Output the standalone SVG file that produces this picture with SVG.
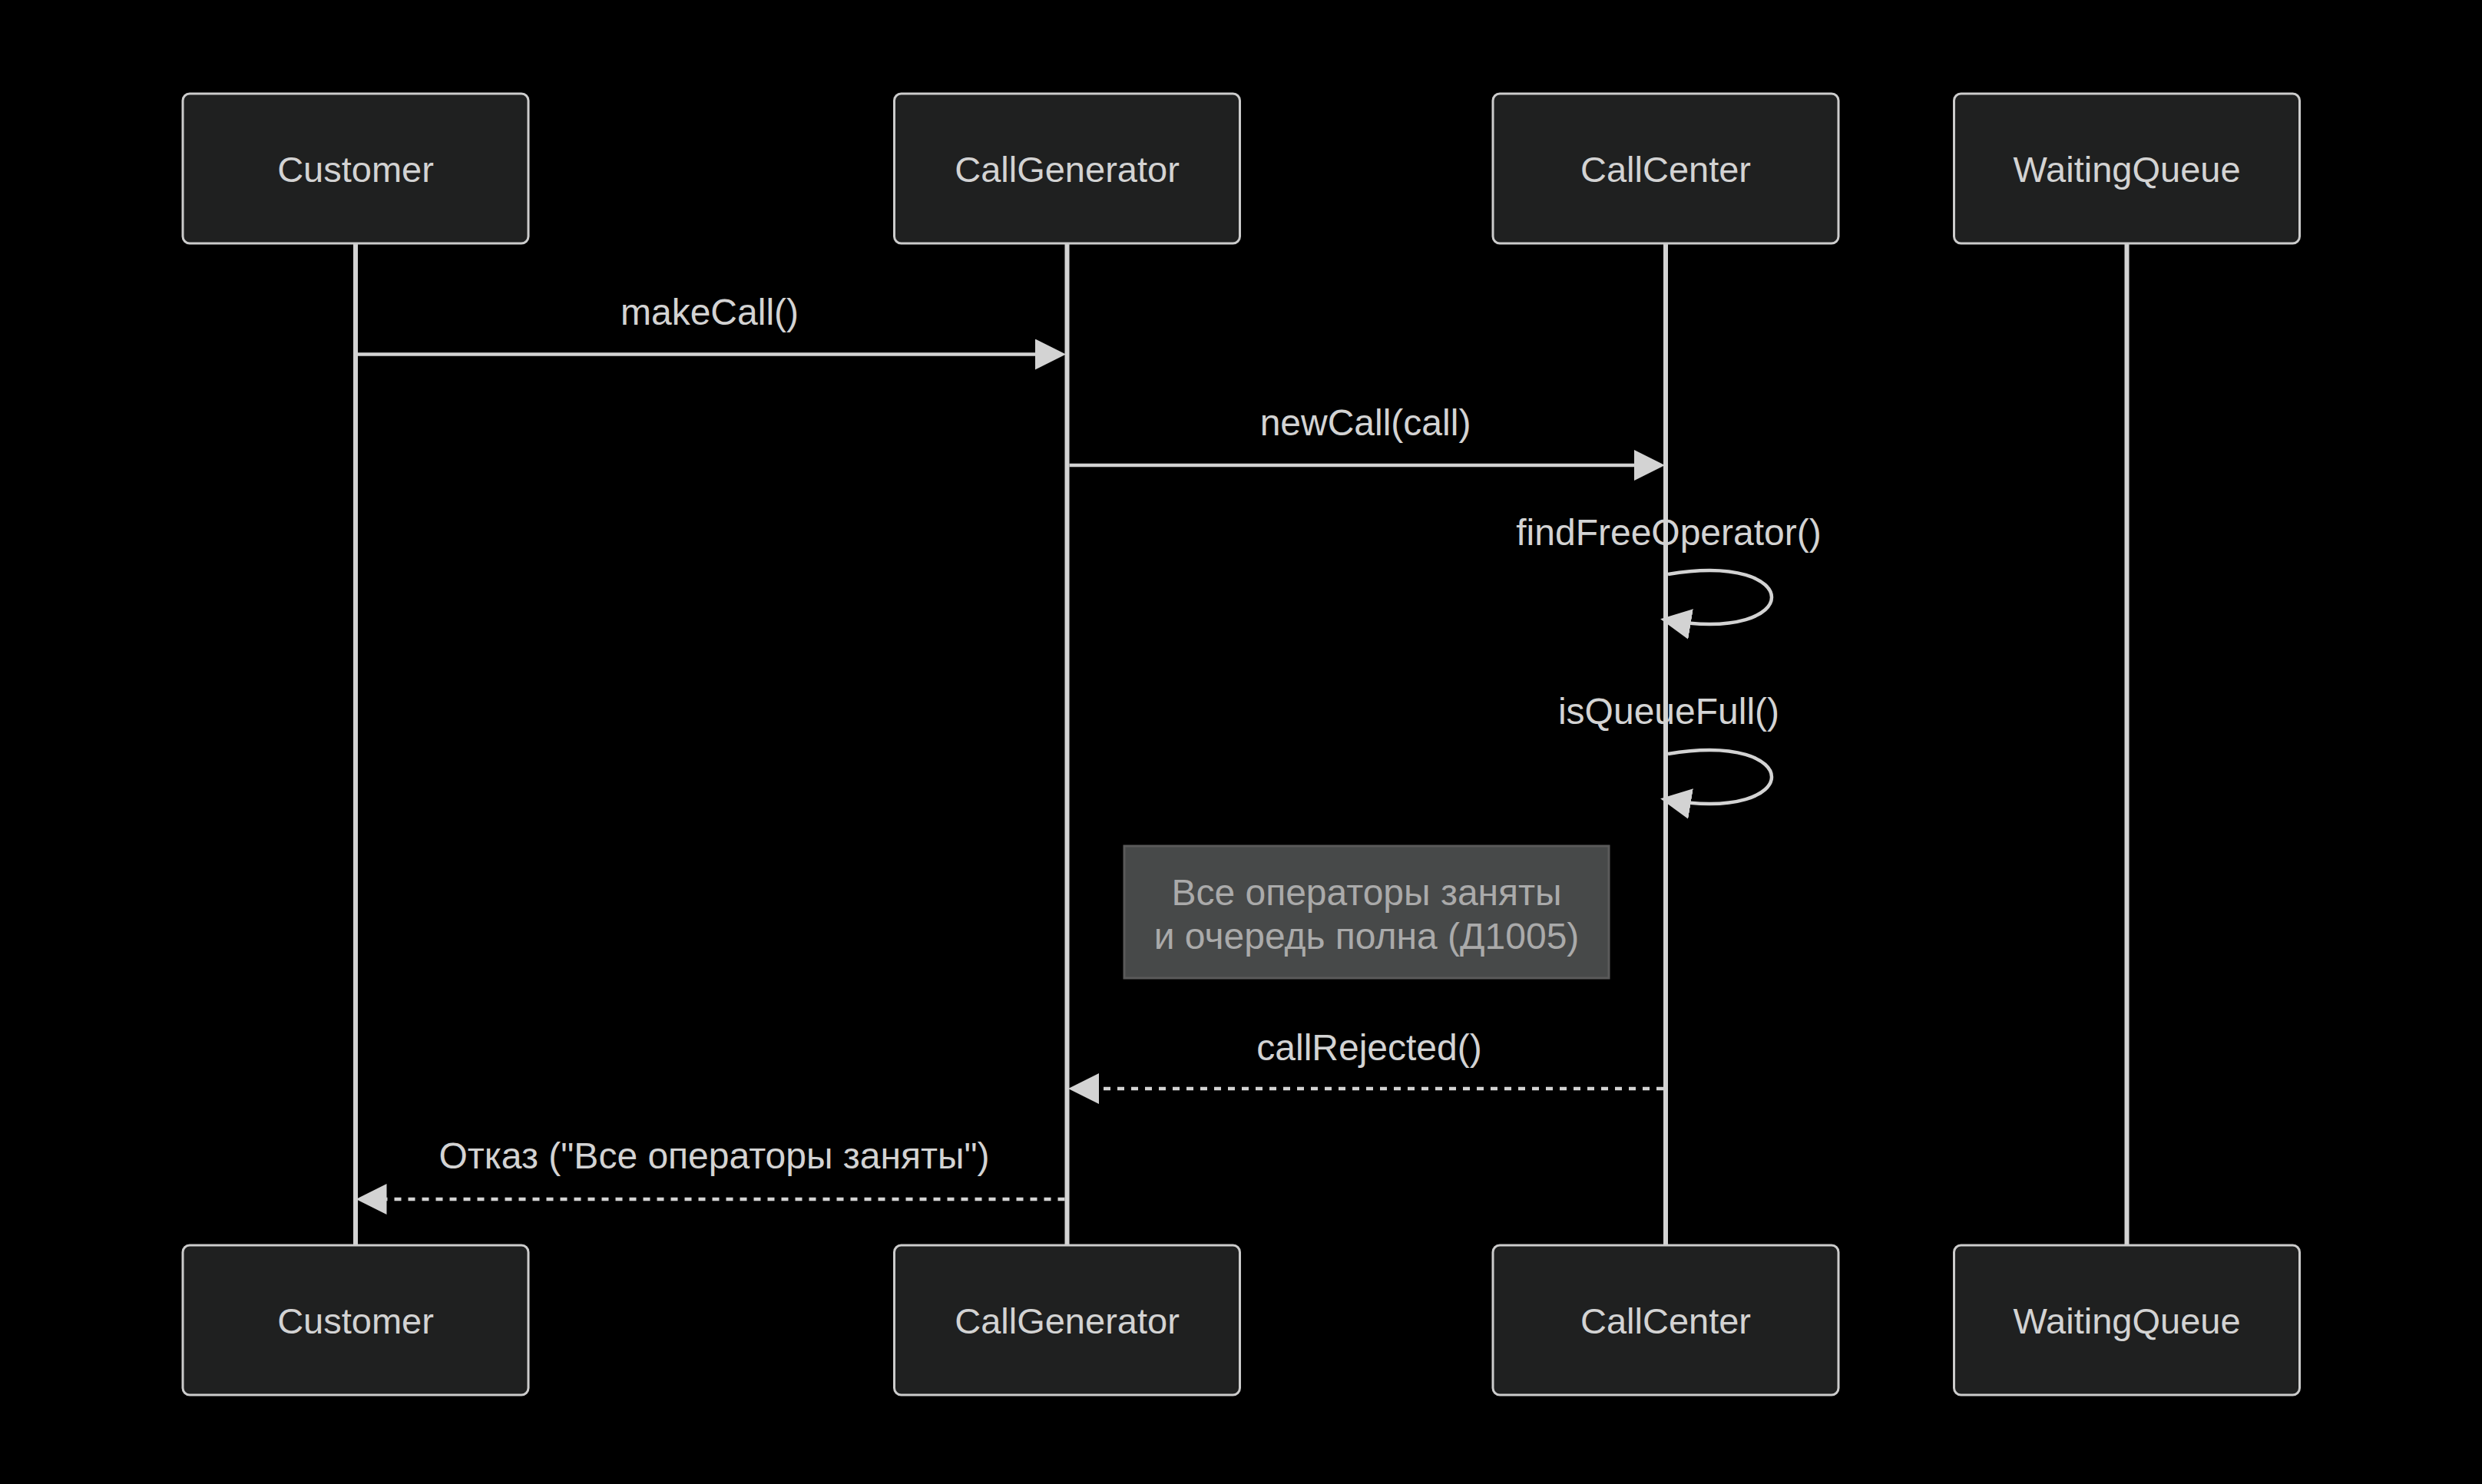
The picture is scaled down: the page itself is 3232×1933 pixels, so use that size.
<svg xmlns="http://www.w3.org/2000/svg" width="3232" height="1933" viewBox="0 0 3232 1933">
<style>
.actor{fill:#1f2020;stroke:#cccccc;stroke-width:3}
.atext{font-family:"Liberation Sans",Arial,sans-serif;font-size:47px;fill:#d3d3d3;text-anchor:middle}
.life{stroke:#d3d3d3;stroke-width:6}
.msg{stroke:#d3d3d3;stroke-width:4.5;fill:none}
.dash{stroke-dasharray:9 9}
.mtext{font-family:"Liberation Sans",Arial,sans-serif;font-size:48px;fill:#d3d3d3;text-anchor:middle}
.note{fill:#474949;stroke:#5a5a5a;stroke-width:3}
.ntext{font-family:"Liberation Sans",Arial,sans-serif;font-size:48px;fill:#aaaaaa;text-anchor:middle}
</style>
<defs>
<marker id="arrow" markerUnits="userSpaceOnUse" markerWidth="40" markerHeight="40" viewBox="0 0 32 32" refX="24" refY="16" orient="auto">
<path d="M0,0 L32,16 L0,32 z" fill="#d3d3d3"/>
</marker>
</defs>
<rect x="0" y="0" width="3232" height="1933" fill="#000000"/>
<g id="lifelines">
<line class="life" x1="463" y1="317" x2="463" y2="1622"/>
<line class="life" x1="1389.5" y1="317" x2="1389.5" y2="1622"/>
<line class="life" x1="2169" y1="317" x2="2169" y2="1622"/>
<line class="life" x1="2769.5" y1="317" x2="2769.5" y2="1622"/>
</g>
<g id="Customer">
<rect class="actor" x="238" y="122" width="450" height="195" rx="9"/>
<text class="atext" x="463" y="237">Customer</text>
</g>
<g id="CallGenerator">
<rect class="actor" x="1164.5" y="122" width="450" height="195" rx="9"/>
<text class="atext" x="1389.5" y="237">CallGenerator</text>
</g>
<g id="CallCenter">
<rect class="actor" x="1944" y="122" width="450" height="195" rx="9"/>
<text class="atext" x="2169" y="237">CallCenter</text>
</g>
<g id="WaitingQueue">
<rect class="actor" x="2544.5" y="122" width="450" height="195" rx="9"/>
<text class="atext" x="2769.5" y="237">WaitingQueue</text>
</g>
<g id="Customer_bottom">
<rect class="actor" x="238" y="1622" width="450" height="195" rx="9"/>
<text class="atext" x="463" y="1737">Customer</text>
</g>
<g id="CallGenerator_bottom">
<rect class="actor" x="1164.5" y="1622" width="450" height="195" rx="9"/>
<text class="atext" x="1389.5" y="1737">CallGenerator</text>
</g>
<g id="CallCenter_bottom">
<rect class="actor" x="1944" y="1622" width="450" height="195" rx="9"/>
<text class="atext" x="2169" y="1737">CallCenter</text>
</g>
<g id="WaitingQueue_bottom">
<rect class="actor" x="2544.5" y="1622" width="450" height="195" rx="9"/>
<text class="atext" x="2769.5" y="1737">WaitingQueue</text>
</g>
<g id="note">
<rect class="note" x="1464" y="1102" width="631" height="172"/>
<text class="ntext" x="1779.5" y="1179">Все операторы заняты</text>
<text class="ntext" x="1779.5" y="1236">и очередь полна (Д1005)</text>
</g>
<g id="connectors">
<line class="msg" x1="466" y1="461.5" x2="1378" y2="461.5" marker-end="url(#arrow)"/>
<text class="mtext" x="924" y="423">makeCall()</text>
<line class="msg" x1="1392.5" y1="606" x2="2158" y2="606" marker-end="url(#arrow)"/>
<text class="mtext" x="1778" y="567">newCall(call)</text>
<path class="msg" d="M2172,748 C2352,718 2352,838 2172,808" marker-end="url(#arrow)"/>
<text class="mtext" x="2173" y="710">findFreeOperator()</text>
<path class="msg" d="M2172,982 C2352,952 2352,1072 2172,1042" marker-end="url(#arrow)"/>
<text class="mtext" x="2173" y="943">isQueueFull()</text>
<line class="msg dash" x1="2166" y1="1418" x2="1401" y2="1418" marker-end="url(#arrow)"/>
<text class="mtext" x="1783" y="1381">callRejected()</text>
<line class="msg dash" x1="1386.5" y1="1562" x2="473.5" y2="1562" marker-end="url(#arrow)"/>
<text class="mtext" x="930" y="1522">Отказ ("Все операторы заняты")</text>
</g>
</svg>
